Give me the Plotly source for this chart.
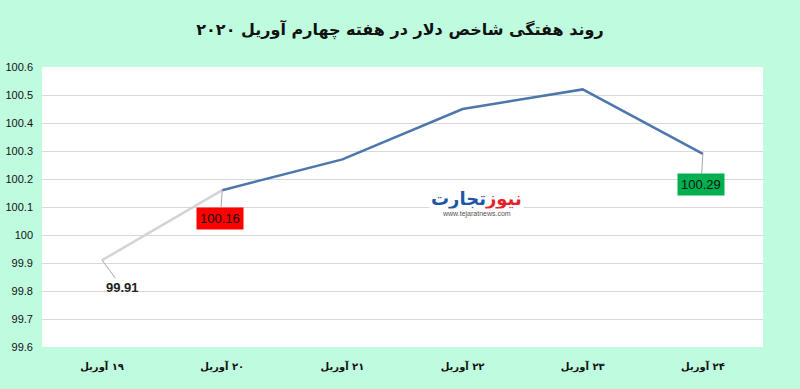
import plotly.graph_objects as go

categories = ["\u200f۱۹ آوریل", "\u200f۲۰ آوریل", "\u200f۲۱ آوریل", "\u200f۲۲ آوریل", "\u200f۲۳ آوریل", "\u200f۲۴ آوریل"]
values = [99.91, 100.16, 100.27, 100.45, 100.52, 100.29]
y_ticks = [99.6, 99.7, 99.8, 99.9, 100.0, 100.1, 100.2, 100.3, 100.4, 100.5, 100.6]
y_tick_labels = ["99.6", "99.7", "99.8", "99.9", "100", "100.1", "100.2", "100.3", "100.4", "100.5", "100.6"]
title_text = "روند هفتگی شاخص دلار در هفته چهارم آوریل ۲۰۲۰"

BG = "#BFFCDF"
FONT = "DejaVu Sans"

fig = go.Figure()
fig.add_trace(go.Scatter(x=categories[:2], y=values[:2], mode="lines",
                         line=dict(color="#D4D4D4", width=2.5), hoverinfo="skip"))
fig.add_trace(go.Scatter(x=categories[1:], y=values[1:], mode="lines",
                         line=dict(color="#4C76AC", width=2.5)))

# data labels
fig.add_annotation(x=categories[0], y=values[0], text=f"<b>{values[0]:.2f}</b>",
                   showarrow=True, arrowhead=0, arrowwidth=1, arrowcolor="#A6A6A6",
                   ax=20, ay=27, font=dict(family="Liberation Sans", size=13, color="#222"))
fig.add_annotation(x=categories[1], y=values[1], text=f"{values[1]:.2f}",
                   showarrow=True, arrowhead=0, arrowwidth=1, arrowcolor="#A6A6A6",
                   ax=-2, ay=28, bgcolor="#FF0000", borderpad=3,
                   font=dict(family="Liberation Sans", size=13, color="#111"))
fig.add_annotation(x=categories[5], y=values[5], text=f"{values[5]:.2f}",
                   showarrow=True, arrowhead=0, arrowwidth=1, arrowcolor="#A6A6A6",
                   ax=-2, ay=31, bgcolor="#00B050", borderpad=3,
                   font=dict(family="Liberation Sans", size=13, color="#111"))

# logo
fig.add_annotation(xref="paper", yref="paper", x=0.603, y=0.53, xanchor="center", yanchor="middle",
                   text="<b><span style='color:#E4202A'>نیوز</span><span style='color:#1F55A5'>تجارت</span></b>",
                   showarrow=False, bgcolor="white", font=dict(family=FONT, size=18))
fig.add_annotation(xref="paper", yref="paper", x=0.603, y=0.475, xanchor="center", yanchor="middle",
                   text="www.tejaratnews.com", showarrow=False, bgcolor="white",
                   font=dict(family="Liberation Sans", size=7, color="#555"))

fig.update_layout(
    width=800, height=389,
    paper_bgcolor=BG, plot_bgcolor="white",
    margin=dict(l=42, r=37, t=67, b=42),
    showlegend=False,
    title=dict(text=f"<b>{title_text}</b>", x=0.5, xanchor="center", y=0.925, yanchor="middle",
               font=dict(family=FONT, size=16, color="#111")),
    xaxis=dict(type="category", range=[-0.5, 5.5], showgrid=False, zeroline=False,
               tickfont=dict(family=FONT, size=10, color="#111"), automargin=False,
               ticks="", ticklabelstandoff=12),
    yaxis=dict(range=[99.6, 100.6], tickvals=y_ticks, ticktext=y_tick_labels,
               showgrid=True, gridcolor="#D9D9D9", gridwidth=1, zeroline=False, automargin=False,
               tickfont=dict(family="Liberation Sans", size=11, color="#111"),
               ticklabelstandoff=8),
)
fig.update_xaxes(tickprefix="<b>", ticksuffix="</b>")
fig.update_yaxes(tickprefix="<b>", ticksuffix="</b>")

fig.write_html("out.html", config={"displayModeBar": False},
               post_script=f"document.body.style.margin='0';document.body.style.background='{BG}';")
